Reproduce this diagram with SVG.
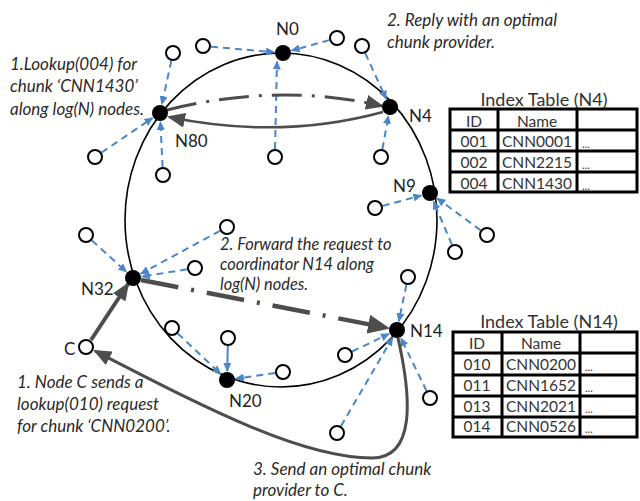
<svg xmlns="http://www.w3.org/2000/svg" width="640" height="501" viewBox="0 0 640 501">
  <style>
    .ring { fill: none; stroke: #000; stroke-width: 1.6; }
    .hub { fill: #000; }
    .peer { fill: #fff; stroke: #000; stroke-width: 2; }
    .link { fill: none; stroke: #4a86c8; stroke-width: 2; stroke-dasharray: 7 5; marker-end: url(#blueHead); }
    .link.solid { stroke-dasharray: none; }
    .flow { fill: none; stroke: #4d4d4d; }
    .dashdot { stroke-dasharray: 30 10 3 10; }
    .note { font-family: Lato, "Liberation Sans", sans-serif; font-style: italic; font-size: 17px; fill: #2a2a2a; }
    .note.tight { font-size: 16.4px; }
    .lbl { font-family: Lato, "Liberation Sans", sans-serif; font-size: 17px; fill: #222; }
    .title { font-family: Lato, "Liberation Sans", sans-serif; font-size: 18px; fill: #333; }
    .cell { font-family: Lato, "Liberation Sans", sans-serif; font-size: 15.5px; fill: #333; }
    .mid { text-anchor: middle; }
    .dots { font-family: Lato, "Liberation Sans", sans-serif; font-size: 11px; fill: #333; }
    .grid { fill: none; stroke: #000; stroke-width: 3; }
  </style>
  <defs>
    <marker id="blueHead" markerUnits="userSpaceOnUse" markerWidth="9" markerHeight="8" refX="8" refY="4" orient="auto">
      <path d="M0,0 L9,4 L0,8 z" fill="#4a86c8"/>
    </marker>
    <marker id="grayHead" markerUnits="userSpaceOnUse" markerWidth="18" markerHeight="15" refX="16" refY="7.5" orient="auto">
      <path d="M0,0 L18,7.5 L0,15 z" fill="#4d4d4d"/>
    </marker>
    <marker id="grayHeadBig" markerUnits="userSpaceOnUse" markerWidth="22" markerHeight="19" refX="20" refY="9.5" orient="auto">
      <path d="M0,0 L22,9.5 L0,19 z" fill="#4d4d4d"/>
    </marker>
  </defs>

  <!-- overlay ring -->
  <ellipse id="ring" class="ring" cx="281" cy="220" rx="156" ry="167"/>

  <!-- peer-to-coordinator links and lookup flows -->
  <g id="connectors">
    <line class="link" x1="171.3" y1="60.8" x2="161.9" y2="104.2"/>
    <line class="link" x1="211" y1="46.7" x2="274" y2="52.2"/>
    <line class="link" x1="329.3" y1="40.1" x2="291.7" y2="50.6"/>
    <line class="link" x1="365.3" y1="53.3" x2="386.2" y2="98.8"/>
    <line class="link" x1="101.6" y1="152.5" x2="152.5" y2="118"/>
    <line class="link" x1="275" y1="149" x2="277" y2="61.5"/>
    <line class="link" x1="382.4" y1="149.1" x2="388.4" y2="115.9"/>
    <line class="link" x1="162.6" y1="167" x2="160.4" y2="122"/>
    <line class="link" x1="382.7" y1="205.9" x2="421.3" y2="195.4"/>
    <line class="link" x1="480.6" y1="230.3" x2="437.2" y2="198.3"/>
    <line class="link" x1="451.9" y1="244.6" x2="433.5" y2="201.3"/>
    <line class="link" x1="406.4" y1="284.8" x2="398.8" y2="321.2"/>
    <line class="link" x1="220" y1="230.8" x2="140.9" y2="273.7"/>
    <line class="link" x1="187.1" y1="269.3" x2="141.9" y2="276.6"/>
    <line class="link" x1="91.9" y1="240.4" x2="126.4" y2="271.9"/>
    <line class="link" x1="177.8" y1="333.5" x2="220.5" y2="373.8"/>
    <line class="link solid" x1="227.8" y1="346" x2="227.2" y2="371"/>
    <line class="link" x1="275.1" y1="373.1" x2="235.9" y2="378.7"/>
    <line class="link" x1="352.2" y1="351.5" x2="388.9" y2="333.9"/>
    <line class="link" x1="341" y1="426.1" x2="392.5" y2="337.8"/>
    <line class="link" x1="426.5" y1="390.8" x2="400.9" y2="338.1"/>

    <path class="flow dashdot" stroke-width="3" marker-end="url(#grayHead)" d="M167,110 Q280,82 382,106"/>
    <path class="flow" stroke-width="2.5" marker-end="url(#grayHead)" d="M383,112 Q280,140 169,117"/>
    <path class="flow" stroke-width="4.5" stroke-dasharray="38 13 3 13" marker-end="url(#grayHeadBig)" d="M141,280 L388,328"/>
    <path class="flow" stroke-width="4" marker-end="url(#grayHead)" d="M91,340 L128,284"/>
    <path class="flow" stroke-width="3" marker-end="url(#grayHead)" d="M398,338 C412,400 415,458 372,458 C300,458 200,405 95,351"/>
  </g>

  <!-- ordinary peers -->
  <g id="peers">
    <circle class="peer" cx="173" cy="53" r="7"/>
    <circle class="peer" cx="203" cy="46" r="7"/>
    <circle class="peer" cx="337" cy="38" r="7"/>
    <circle class="peer" cx="362" cy="46" r="7"/>
    <circle class="peer" cx="95" cy="157" r="7"/>
    <circle class="peer" cx="275" cy="157" r="7"/>
    <circle class="peer" cx="381" cy="157" r="7"/>
    <circle class="peer" cx="163" cy="175" r="7"/>
    <circle class="peer" cx="375" cy="208" r="7"/>
    <circle class="peer" cx="487" cy="235" r="7"/>
    <circle class="peer" cx="455" cy="252" r="7"/>
    <circle class="peer" cx="408" cy="277" r="7"/>
    <circle class="peer" cx="227" cy="227" r="7"/>
    <circle class="peer" cx="195" cy="268" r="7"/>
    <circle class="peer" cx="86" cy="235" r="7"/>
    <circle class="peer" cx="172" cy="328" r="7"/>
    <circle class="peer" cx="228" cy="338" r="7"/>
    <circle class="peer" cx="283" cy="372" r="7"/>
    <circle class="peer" cx="345" cy="355" r="7"/>
    <circle class="peer" cx="337" cy="433" r="7"/>
    <circle class="peer" cx="430" cy="398" r="7"/>
  </g>

  <!-- client node C -->
  <g id="nodeC">
    <circle class="peer" cx="86" cy="347" r="7"/>
    <text class="lbl" x="64" y="355">C</text>
  </g>

  <!-- coordinator nodes on the ring -->
  <g id="N0">
    <circle class="hub" cx="283" cy="53" r="8"/>
    <text class="lbl" x="276" y="35">N0</text>
  </g>
  <g id="N4">
    <circle class="hub" cx="390" cy="107" r="8"/>
    <text class="lbl" x="409" y="122">N4</text>
  </g>
  <g id="N9">
    <circle class="hub" cx="430" cy="193" r="8"/>
    <text class="lbl" x="393" y="192">N9</text>
  </g>
  <g id="N14">
    <circle class="hub" cx="397" cy="330" r="8"/>
    <text class="lbl" x="410" y="337">N14</text>
  </g>
  <g id="N20">
    <circle class="hub" cx="227" cy="380" r="8"/>
    <text class="lbl" x="229" y="407">N20</text>
  </g>
  <g id="N32">
    <circle class="hub" cx="133" cy="278" r="8"/>
    <text class="lbl" x="81" y="295">N32</text>
  </g>
  <g id="N80">
    <circle class="hub" cx="160" cy="113" r="8"/>
    <text class="lbl" x="175" y="147">N80</text>
  </g>

  <!-- step annotations -->
  <g id="notes">
    <text class="note" x="10" y="70">1.Lookup(004) for</text>
    <text class="note" x="10" y="92">chunk ‘CNN1430’</text>
    <text class="note" x="10" y="115">along log(N) nodes.</text>
    <text class="note" x="387" y="26">2. Reply with an optimal</text>
    <text class="note" x="387" y="48">chunk provider.</text>
    <text class="note tight" x="220" y="250">2. Forward the request to</text>
    <text class="note tight" x="220" y="270">coordinator N14 along</text>
    <text class="note tight" x="220" y="290">log(N) nodes.</text>
    <text class="note" x="17" y="388">1. Node C sends a</text>
    <text class="note" x="17" y="410">lookup(010) request</text>
    <text class="note" x="17" y="432">for chunk ‘CNN0200’.</text>
    <text class="note" x="253" y="475">3. Send an optimal chunk</text>
    <text class="note" x="253" y="496">provider to C.</text>
  </g>

  <!-- index table kept by N4 -->
  <g id="tableN4">
    <text class="title mid" x="544" y="106">Index Table (N4)</text>
    <rect class="grid" x="450" y="109" width="187" height="83"/>
    <path class="grid" d="M450,130 H637 M450,151 H637 M450,172 H637 M498,109 V192 M577,109 V192"/>
    <text class="cell mid" x="474" y="127">ID</text>
    <text class="cell mid" x="537" y="127">Name</text>
    <text class="cell mid" x="474" y="147">001</text>
    <text class="cell mid" x="537" y="147">CNN0001</text>
    <text class="dots" x="582" y="148">...</text>
    <text class="cell mid" x="474" y="168">002</text>
    <text class="cell mid" x="537" y="168">CNN2215</text>
    <text class="dots" x="582" y="169">...</text>
    <text class="cell mid" x="474" y="189">004</text>
    <text class="cell mid" x="537" y="189">CNN1430</text>
    <text class="dots" x="582" y="190">...</text>
  </g>

  <!-- index table kept by N14 -->
  <g id="tableN14">
    <text class="title mid" x="549" y="328">Index Table (N14)</text>
    <rect class="grid" x="453" y="332" width="184" height="105"/>
    <path class="grid" d="M453,353 H637 M453,375 H637 M453,396 H637 M453,417 H637 M502,332 V437 M580,332 V437"/>
    <text class="cell mid" x="477" y="349">ID</text>
    <text class="cell mid" x="541" y="349">Name</text>
    <text class="cell mid" x="477" y="370">010</text>
    <text class="cell mid" x="541" y="370">CNN0200</text>
    <text class="dots" x="585" y="371">...</text>
    <text class="cell mid" x="477" y="391">011</text>
    <text class="cell mid" x="541" y="391">CNN1652</text>
    <text class="dots" x="585" y="392">...</text>
    <text class="cell mid" x="477" y="412">013</text>
    <text class="cell mid" x="541" y="412">CNN2021</text>
    <text class="dots" x="585" y="413">...</text>
    <text class="cell mid" x="477" y="432">014</text>
    <text class="cell mid" x="541" y="432">CNN0526</text>
    <text class="dots" x="585" y="433">...</text>
  </g>
</svg>
